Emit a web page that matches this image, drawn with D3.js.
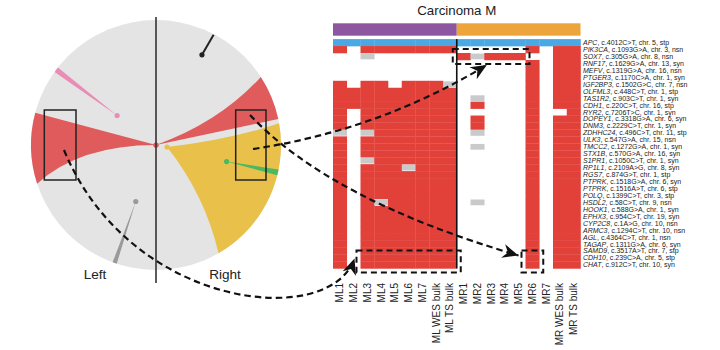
<!DOCTYPE html>
<html>
<head>
<meta charset="utf-8">
<script src="https://cdn.jsdelivr.net/npm/d3@7"></script>
<style>
  body { margin: 0; background: #fff; }
  svg { display: block; font-family: "Liberation Sans", Arial, sans-serif; }
</style>
</head>
<body>
<svg id="chart" width="720" height="350"></svg>
<script>
// samples (columns) and their region
const samples = ["ML1", "ML2", "ML3", "ML4", "ML5", "ML6", "ML7", "ML WES bulk", "ML TS bulk",
                 "MR1", "MR2", "MR3", "MR4", "MR5", "MR6", "MR7", "MR WES bulk", "MR TS bulk"];
const regionNames = ["ML", "MR"];
const regionSizes = [9, 9];

const genes = ["APC", "PIK3CA", "SOX7", "RNF17", "MEFV", "PTGER3", "IGF2BP3", "OLFML3", "TAS1R2",
  "CDH1", "RYR2", "DOPEY1", "DNM3", "ZDHHC24", "ULK3", "TMCC2", "STX1B", "S1PR1", "RP1L1", "RGS7",
  "PTPRK", "PTPRK", "POLQ", "HSDL2", "HOOK1", "EPHX3", "CYP2C8", "ARMC3", "AGL", "TAGAP", "SAMD9",
  "CDH10", "CHAT"];
const changes = [", c.4012C>T, chr. 5, stp", ", c.1093G>A, chr. 3, nsn", ", c.305G>A, chr. 8, nsn",
  ", c.1629G>A, chr. 13, syn", ", c.1319G>A, chr. 16, nsn", ", c.1170C>A, chr. 1, syn",
  ", c.1502G>C, chr. 7, nsn", ", c.448C>T, chr. 1, stp", ", c.903C>T, chr. 1, syn",
  ", c.220C>T, chr. 16, stp", ", c.7206T>C, chr. 1, syn", ", c.3318G>A, chr. 6, syn",
  ", c.2229C>T, chr. 1, syn", ", c.496C>T, chr. 11, stp", ", c.547G>A, chr. 15, nsn",
  ", c.1272G>A, chr. 1, syn", ", c.570G>A, chr. 16, syn", ", c.1050C>T, chr. 1, syn",
  ", c.2109A>G, chr. 8, syn", ", c.874G>T, chr. 1, stp", ", c.1518G>A, chr. 6, syn",
  ", c.1516A>T, chr. 6, stp", ", c.1399C>T, chr. 3, stp", ", c.58C>T, chr. 9, nsn",
  ", c.588G>A, chr. 1, syn", ", c.954C>T, chr. 19, syn", ", c.1A>G, chr. 10, nsn",
  ", c.1294C>T, chr. 10, nsn", ", c.4364C>T, chr. 1, nsn", ", c.1311G>A, chr. 6, syn",
  ", c.3517A>T, chr. 7, stp", ", c.239C>A, chr. 5, stp", ", c.912C>T, chr. 10, syn"];

// one string per gene, one char per sample: B trunk, 1 mutated, 2 low coverage, 0 absent
const calls = [
  "BBBBBBBBBBBBBBBBBB",
  "101111111000001011",
  "002000000121110011",
  "000000000000001011",
  "000000000000001011",
  "000000000000001011",
  "101101112000001011",
  "111111111000001011",
  "111111111020001011",
  "111111111010001011",
  "101111111000001001",
  "101111111010001011",
  "101111111010001011",
  "202111111020001011",
  "101111111000001011",
  "101111111020001011",
  "101111111000001011",
  "102111111000001011",
  "101112111000001011",
  "101111111000001011",
  "101111111000001011",
  "101111111000001011",
  "101111111000001011",
  "101211111020001011",
  "101111111000001011",
  "101111111000001011",
  "101111111000001011",
  "101111111000001011",
  "101111111000001011",
  "101111111000001011",
  "101111111000001011",
  "101111111000001011",
  "101111111000001011"];

// clone sectors in the lesion drawing: angles in degrees clockwise from top
const sectorStart = [252, 57, 80, 305.8, 198.3, 101.3];
const sectorEnd   = [285, 78, 150, 308.3, 200.3, 104];
const sectorRoot  = [[0, 0], [0, 0], [100.3, 0.09], [307.1, 0.39], [199.7, 0.48], [103.2, 0.58]];
const sectorBendA = [[270, 0.61], [70.2, 0.544], [86.1, 0.59], null, null, null];
const sectorBendB = [[285, 0.5], [78, 0.5], [135.6, 0.56], null, null, null];
const sectorColors = ["#e05c5c", "#e05c5c", "#e8c04a", "#ea8db6", "#9a9a9a", "#4cb862"];
const branchLine = [[27, 0.81], [27.6, 0.995]];

const svg = d3.select("#chart");

// ---------- heatmap ----------
const x = d3.scaleBand().domain(samples).range([333, 580.5]);
const y = d3.scaleBand().domain(d3.range(genes.length)).range([39.1, 268.4]);
const cellColor = {B: "#4aa9e4", "1": "#e2413a", "2": "#c9cacc"};

const regionScale = d3.scaleOrdinal().domain(regionNames).range(["#8d56a1", "#eca43b"]);
let start = 0;
regionNames.forEach((r, i) => {
  const first = samples[start], last = samples[start + regionSizes[i] - 1];
  svg.append("rect")
    .attr("x", x(first)).attr("y", 23.3)
    .attr("width", x(last) + x.bandwidth() - x(first)).attr("height", 12.4)
    .attr("fill", regionScale(r));
  start += regionSizes[i];
});

const cells = [];
calls.forEach((row, i) => row.split("").forEach((c, j) => {
  if (c !== "0") cells.push({row: i, sample: samples[j], code: c});
}));

svg.append("g").selectAll("rect")
  .data(cells)
  .join("rect")
    .attr("x", d => x(d.sample))
    .attr("y", d => y(d.row) + (d.code === "2" ? 0.6 : 0))
    .attr("width", x.bandwidth() + 0.3)
    .attr("height", d => y.bandwidth() + (d.code === "2" ? -1.2 : 0.3))
    .attr("fill", d => cellColor[d.code]);

// region divider
svg.append("line")
  .attr("x1", x("MR1")).attr("x2", x("MR1"))
  .attr("y1", y(0)).attr("y2", y(genes.length - 1) + y.bandwidth())
  .attr("stroke", "#111").attr("stroke-width", 1.6);

svg.append("text")
  .attr("x", x("MR1")).attr("y", 15)
  .attr("text-anchor", "middle")
  .attr("font-size", 13.3)
  .attr("fill", "#222")
  .text("Carcinoma M");

// sample labels
svg.append("g").selectAll("text")
  .data(samples)
  .join("text")
    .attr("transform", d => `translate(${x(d) + x.bandwidth() / 2},283) rotate(-90)`)
    .attr("text-anchor", "end")
    .attr("dy", "0.35em")
    .attr("font-size", 10)
    .attr("fill", "#222")
    .text(d => d);

// gene labels
const geneText = svg.append("g").selectAll("text")
  .data(genes)
  .join("text")
    .attr("x", 583)
    .attr("y", (d, i) => y(i) + y.bandwidth() / 2)
    .attr("dy", "0.35em")
    .attr("font-size", 7)
    .attr("fill", "#222");
geneText.append("tspan").attr("font-style", "italic").text(d => d);
geneText.append("tspan").text((d, i) => changes[i]);

// ---------- lesion drawing ----------
const cx = 156, cy = 145, R = 125;
const rad = d3.scaleLinear().domain([0, 360]).range([0, 2 * Math.PI]);
const polar = (a, f) => [cx + R * f * Math.sin(rad(a)), cy - R * f * Math.cos(rad(a))];

svg.append("circle").attr("cx", cx).attr("cy", cy).attr("r", R).attr("fill", "#e4e4e4");

sectorStart.forEach((a0, i) => {
  const a1 = sectorEnd[i];
  const o = polar(...sectorRoot[i]);
  const p0 = polar(a0, 1), p1 = polar(a1, 1);
  const cA = sectorBendA[i] ? polar(...sectorBendA[i]) : [(o[0] + p0[0]) / 2, (o[1] + p0[1]) / 2];
  const cB = sectorBendB[i] ? polar(...sectorBendB[i]) : [(o[0] + p1[0]) / 2, (o[1] + p1[1]) / 2];
  const p = d3.path();
  p.moveTo(o[0], o[1]);
  p.quadraticCurveTo(cA[0], cA[1], p0[0], p0[1]);
  p.arc(cx, cy, R, rad(a0) - Math.PI / 2, rad(a1) - Math.PI / 2, false);
  p.quadraticCurveTo(cB[0], cB[1], o[0], o[1]);
  p.closePath();
  svg.append("path").attr("d", p.toString()).attr("fill", sectorColors[i]);
  svg.append("circle").attr("cx", o[0]).attr("cy", o[1]).attr("r", 2.6).attr("fill", sectorColors[i]);
});

const b0 = polar(...branchLine[0]), b1 = polar(...branchLine[1]);
svg.append("line").attr("x1", b0[0]).attr("y1", b0[1]).attr("x2", b1[0]).attr("y2", b1[1])
  .attr("stroke", "#222").attr("stroke-width", 2);
svg.append("circle").attr("cx", b0[0]).attr("cy", b0[1]).attr("r", 2.6).attr("fill", "#222");

// left/right divider
svg.append("line").attr("x1", cx).attr("x2", cx).attr("y1", 17).attr("y2", 283)
  .attr("stroke", "#333").attr("stroke-width", 1.6);

svg.append("text").attr("x", 95).attr("y", 279).attr("text-anchor", "middle")
  .attr("font-size", 13.6).attr("fill", "#222").text("Left");
svg.append("text").attr("x", 225).attr("y", 279).attr("text-anchor", "middle")
  .attr("font-size", 13.6).attr("fill", "#222").text("Right");

// sampled areas
[[44.3, 110, 31.7, 70], [235.7, 110, 30.3, 70]].forEach(r => {
  svg.append("rect").attr("x", r[0]).attr("y", r[1]).attr("width", r[2]).attr("height", r[3])
    .attr("fill", "none").attr("stroke", "#222").attr("stroke-width", 1.5);
});

// ---------- highlight boxes and arrows ----------
const pad = 4;
function box(s0, s1, r0, r1) {
  const bx = x(s0) - pad, by = y(r0) - pad;
  const bw = x(s1) + x.bandwidth() + pad - bx, bh = y(r1) + y.bandwidth() + pad - by;
  svg.append("rect").attr("x", bx).attr("y", by).attr("width", bw).attr("height", bh)
    .attr("fill", "none").attr("stroke", "#111").attr("stroke-width", 2)
    .attr("stroke-dasharray", "6,4");
  return {x: bx, y: by, w: bw, h: bh};
}
const boxA = box("MR1", "MR5", 2, 2);
const boxB = box("ML3", "ML TS bulk", 31, 32);
const boxC = box("MR6", "MR6", 31, 32);

svg.append("defs").append("marker")
  .attr("id", "head")
  .attr("viewBox", "-17 -8 18 16")
  .attr("refX", 0).attr("refY", 0)
  .attr("markerWidth", 18).attr("markerHeight", 16)
  .attr("markerUnits", "userSpaceOnUse")
  .attr("orient", "auto")
  .append("path")
    .attr("d", "M0,0 L-16,-7 L-11,0 L-16,7 Z")
    .attr("fill", "#111");

function arrow(pts) {
  const p = d3.path();
  p.moveTo(pts[0][0], pts[0][1]);
  if (pts.length === 3) p.quadraticCurveTo(pts[1][0], pts[1][1], pts[2][0], pts[2][1]);
  else p.bezierCurveTo(pts[1][0], pts[1][1], pts[2][0], pts[2][1], pts[3][0], pts[3][1]);
  svg.append("path").attr("d", p.toString())
    .attr("fill", "none").attr("stroke", "#111").attr("stroke-width", 2.2)
    .attr("stroke-dasharray", "6.5,4")
    .attr("marker-end", "url(#head)");
}
arrow([[253, 149], [380, 130], [boxA.x + 34, boxA.y + boxA.h + 1]]);
arrow([[250, 115], [330, 200], [boxC.x - 3, boxC.y + 5]]);
arrow([[64, 150], [130, 310], [330, 330], [boxB.x - 2, boxB.y + 8]]);
</script>
</body>
</html>
